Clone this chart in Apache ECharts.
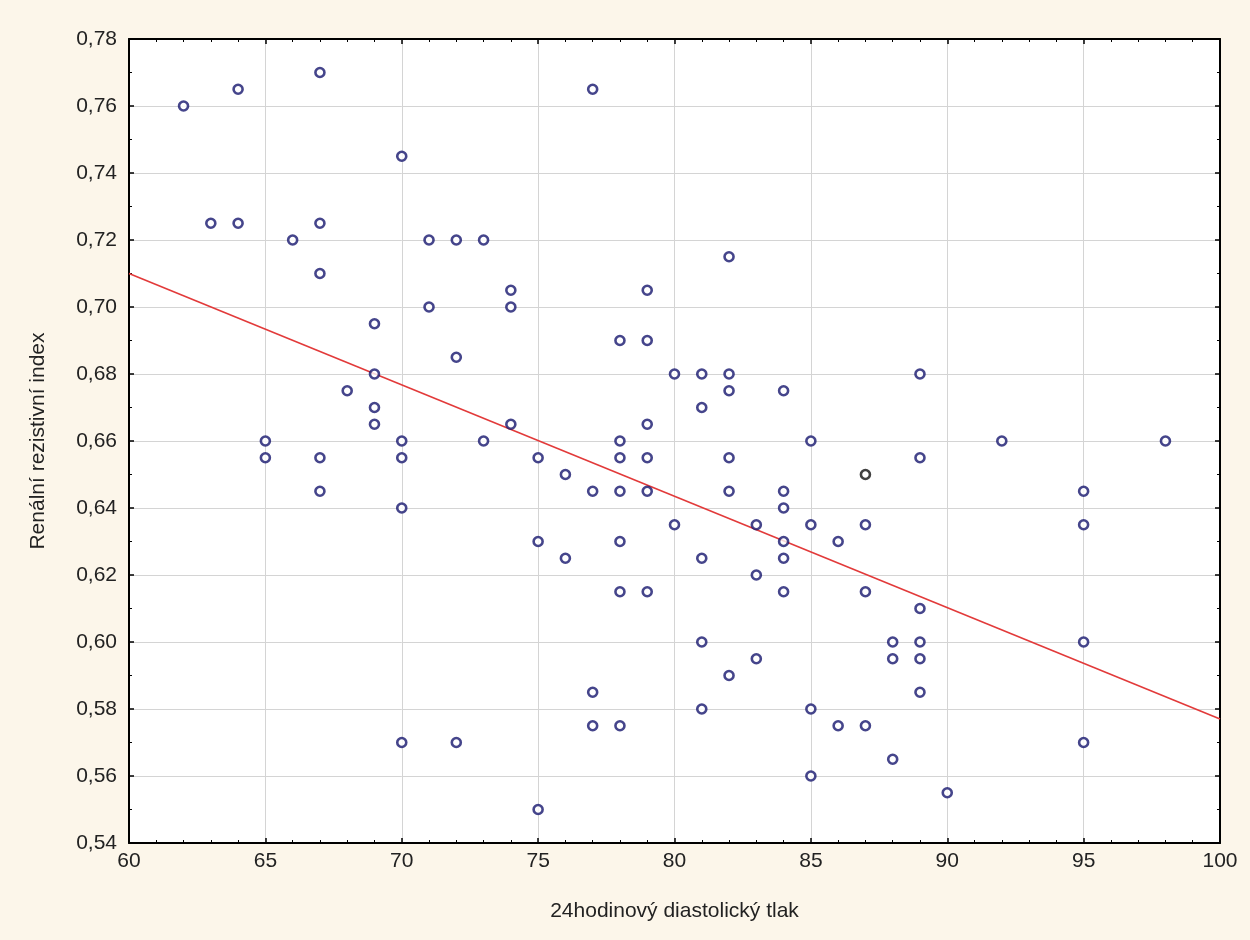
<!DOCTYPE html>
<html>
<head>
<meta charset="utf-8">
<title>Renální rezistivní index</title>
<script src="https://cdn.jsdelivr.net/npm/echarts@6/dist/echarts.min.js"></script>
<style>
  html, body { margin: 0; padding: 0; background: #fcf6ea; }
  #chart { width: 1250px; height: 940px; }
</style>
</head>
<body>
<div id="chart"></div>
<script>
// 24hodinový diastolický tlak (x) a renální rezistivní index (y)
const tlak = [
  62, 63, 64, 64, 65, 65, 66,
  67, 67, 67, 67, 67, 68,
  69, 69, 69, 69,
  70, 70, 70, 70, 70,
  71, 71, 72, 72, 72, 73, 73,
  74, 74, 74, 75, 75, 75, 76, 76,
  77, 77, 77, 77,
  78, 78, 78, 78, 78, 78, 78,
  79, 79, 79, 79, 79, 79,
  80, 80,
  81, 81, 81, 81, 81,
  82, 82, 82, 82, 82, 82,
  83, 83, 83,
  84, 84, 84, 84, 84, 84,
  85, 85, 85, 85, 86, 86,
  87, 87, 87, 88, 88, 88,
  89, 89, 89, 89, 89, 89,
  90, 92, 95, 95, 95, 95, 98
];
const index = [
  0.76, 0.725, 0.765, 0.725, 0.66, 0.655, 0.72,
  0.77, 0.725, 0.71, 0.655, 0.645, 0.675,
  0.695, 0.68, 0.67, 0.665,
  0.745, 0.66, 0.655, 0.64, 0.57,
  0.72, 0.70, 0.72, 0.685, 0.57, 0.72, 0.66,
  0.705, 0.70, 0.665, 0.655, 0.63, 0.55, 0.65, 0.625,
  0.765, 0.645, 0.585, 0.575,
  0.69, 0.66, 0.655, 0.645, 0.63, 0.615, 0.575,
  0.705, 0.69, 0.665, 0.655, 0.645, 0.615,
  0.68, 0.635,
  0.68, 0.67, 0.625, 0.60, 0.58,
  0.715, 0.68, 0.675, 0.655, 0.645, 0.59,
  0.635, 0.62, 0.595,
  0.675, 0.645, 0.64, 0.63, 0.625, 0.615,
  0.66, 0.635, 0.58, 0.56, 0.63, 0.575,
  0.635, 0.615, 0.575, 0.60, 0.595, 0.565,
  0.68, 0.655, 0.61, 0.60, 0.595, 0.585,
  0.555, 0.66, 0.645, 0.635, 0.60, 0.57, 0.66
];
// jeden bod je v originale cerny
const cernyTlak = [87];
const cernyIndex = [0.65];

// regresni primka (krajni body)
const primkaTlak = [60, 100];
const primkaIndex = [0.710, 0.577];

const xTicks = [60, 65, 70, 75, 80, 85, 90, 95, 100];
const yTicks = [0.54, 0.56, 0.58, 0.60, 0.62, 0.64, 0.66, 0.68, 0.70, 0.72, 0.74, 0.76, 0.78];

const chart = echarts.init(document.getElementById("chart"));

const font = "Liberation Sans, Arial, sans-serif";
const tickStyle = { inside: true, length: 5, lineStyle: { color: "#000", width: 1.5 } };
const minorStyle = { show: true, length: 3, lineStyle: { color: "#000", width: 1 } };
const frameLine = { show: true, onZero: false, lineStyle: { color: "#000", width: 2 } };

const xBase = {
  type: "value",
  min: xTicks[0],
  max: xTicks[xTicks.length - 1],
  interval: 5,
  axisLine: frameLine,
  axisTick: tickStyle,
  minorTick: Object.assign({ splitNumber: 5 }, minorStyle)
};
const yBase = {
  type: "value",
  min: yTicks[0],
  max: yTicks[yTicks.length - 1],
  interval: 0.02,
  axisLine: frameLine,
  axisTick: tickStyle,
  minorTick: Object.assign({ splitNumber: 2 }, minorStyle)
};

const option = {
  backgroundColor: "#fcf6ea",
  animation: false,
  grid: {
    left: 129,
    top: 39,
    width: 1091,
    height: 804,
    show: true,
    backgroundColor: "#ffffff",
    borderWidth: 0,
    containLabel: false,
    outerBoundsMode: "none"
  },
  xAxis: [
    Object.assign({}, xBase, {
      position: "bottom",
      name: "24hodinový diastolický tlak",
      nameLocation: "middle",
      nameGap: 58,
      nameTextStyle: { fontFamily: font, fontSize: 21, color: "#222" },
      axisLabel: { margin: 8, fontFamily: font, fontSize: 21, color: "#222" },
      splitLine: { show: true, lineStyle: { color: "#d4d4d4", width: 1 } }
    }),
    Object.assign({}, xBase, {
      position: "top",
      axisLabel: { show: false },
      splitLine: { show: false }
    })
  ],
  yAxis: [
    Object.assign({}, yBase, {
      position: "left",
      name: "Renální rezistivní index",
      nameLocation: "middle",
      nameGap: 80,
      nameTextStyle: { fontFamily: font, fontSize: 21, color: "#222" },
      axisLabel: {
        margin: 12,
        fontFamily: font,
        fontSize: 21,
        color: "#222",
        formatter: function (v) { return v.toFixed(2).replace(".", ","); }
      },
      splitLine: { show: true, lineStyle: { color: "#d4d4d4", width: 1 } }
    }),
    Object.assign({}, yBase, {
      position: "right",
      axisLabel: { show: false },
      splitLine: { show: false }
    })
  ],
  series: [
    {
      type: "line",
      data: primkaTlak.map((x, i) => [x, primkaIndex[i]]),
      symbol: "none",
      lineStyle: { color: "#e23a3a", width: 1.6 },
      z: 2
    },
    {
      type: "scatter",
      data: tlak.map((x, i) => [x, index[i]]),
      symbol: "circle",
      symbolSize: 9,
      itemStyle: { color: "#ffffff", borderColor: "#16166e", borderWidth: 2.6 },
      z: 3
    },
    {
      type: "scatter",
      data: cernyTlak.map((x, i) => [x, cernyIndex[i]]),
      symbol: "circle",
      symbolSize: 9,
      itemStyle: { color: "#ffffff", borderColor: "#111111", borderWidth: 2.6 },
      z: 4
    }
  ]
};

chart.setOption(option);
</script>
</body>
</html>
